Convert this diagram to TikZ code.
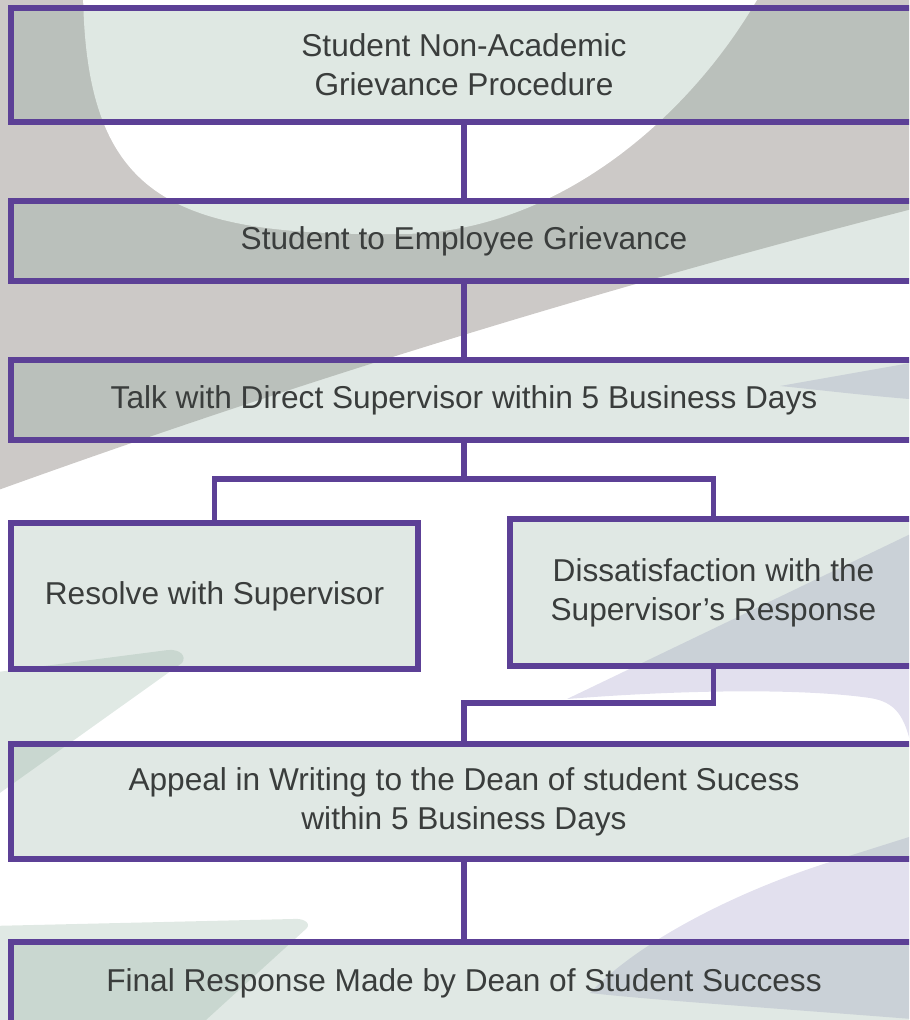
\documentclass[tikz,border=0pt]{standalone}
\usepackage{fontspec}
\setmainfont{Liberation Sans}
\definecolor{chartpurple}{RGB}{92,64,150}
\definecolor{inkgrey}{RGB}{58,61,60}
\definecolor{boxtint}{RGB}{140,170,155}
\definecolor{bggrey}{RGB}{204,201,199}
\definecolor{bggreen}{RGB}{224,233,228}
\definecolor{bgpurple}{RGB}{226,224,238}
\begin{document}
\begin{tikzpicture}[x=0.02cm, y=-0.02cm,
    box/.style={draw=chartpurple, line width=3pt, fill=boxtint, fill opacity=0.27,
      text opacity=1, text=inkgrey, align=center, inner sep=0pt,
      font=\fontsize{18}{22}\selectfont},
    wide/.style={box, minimum width=18.12cm},
    half/.style={box, minimum width=8.14cm},
    link/.style={draw=chartpurple, line width=2.9pt}]
    \path[use as bounding box, clip] (0,0) rectangle (909,1020);

    \fill[bggrey] (-10,-10) -- (920,-10) -- (920,207)
      .. controls (600,289) and (300,381) .. (-10,493) -- cycle;
    \fill[white] (83,-30) -- (83,-20) .. controls (82,200) and (170,236) .. (400,234)
      .. controls (560,234) and (700,110) .. (768,-20) -- (768,-30) -- cycle;

    \fill[bggreen] (-10,673) -- (168,650) .. controls (180,649) and (187,656) .. (182,663)
      -- (-10,800) -- cycle;
    \fill[bggreen] (-10,926) -- (293,919) .. controls (302,918) and (311,922) .. (307,928)
      -- (195,1030) -- (-10,1030) -- cycle;

    \fill[bgpurple] (780,386) -- (950,356) -- (950,402) -- (909,399)
      .. controls (860,395) and (820,390) .. (780,386) -- cycle;
    \fill[bgpurple] (567,699) .. controls (680,690) and (800,688) .. (870,698)
      .. controls (895,702) and (905,715) .. (912,750) -- (950,760) -- (950,515) -- cycle;
    \fill[bgpurple] (950,820) -- (909,837) -- (833,861)
      .. controls (740,890) and (640,940) .. (590,993)
      .. controls (650,1000) and (800,1010) .. (950,1022) -- cycle;

    \node[wide, minimum height=2.28cm] (title) at (464,65) {Student Non-Academic\\Grievance Procedure};
    \node[wide, minimum height=1.6cm] (employee) at (464,241) {Student to Employee Grievance};
    \node[wide, minimum height=1.6cm] (talk) at (464,400) {Talk with Direct Supervisor within 5 Business Days};
    \node[half, minimum height=2.92cm] (resolve) at (214.5,596) {Resolve with Supervisor};
    \node[half, minimum height=2.94cm] (dissat) at (713.5,592.5) {Dissatisfaction with the\\Supervisor’s Response};
    \node[wide, minimum height=2.3cm] (appeal) at (464,801.5) {Appeal in Writing to the Dean of student Sucess\\within 5 Business Days};
    \node[wide, minimum height=1.64cm] (final) at (464,983) {Final Response Made by Dean of Student Success};

    \coordinate (split) at (464,479);
    \coordinate (merge) at (464,703);

    \draw[link] (title) -- (employee);
    \draw[link] (employee) -- (talk);
    \draw[link] (talk) -- (split);
    \draw[link] (resolve.north) |- (split) -| (dissat.north);
    \draw[link] (dissat.south) |- (merge) -- (appeal);
    \draw[link] (appeal) -- (final);
\end{tikzpicture}
\end{document}
